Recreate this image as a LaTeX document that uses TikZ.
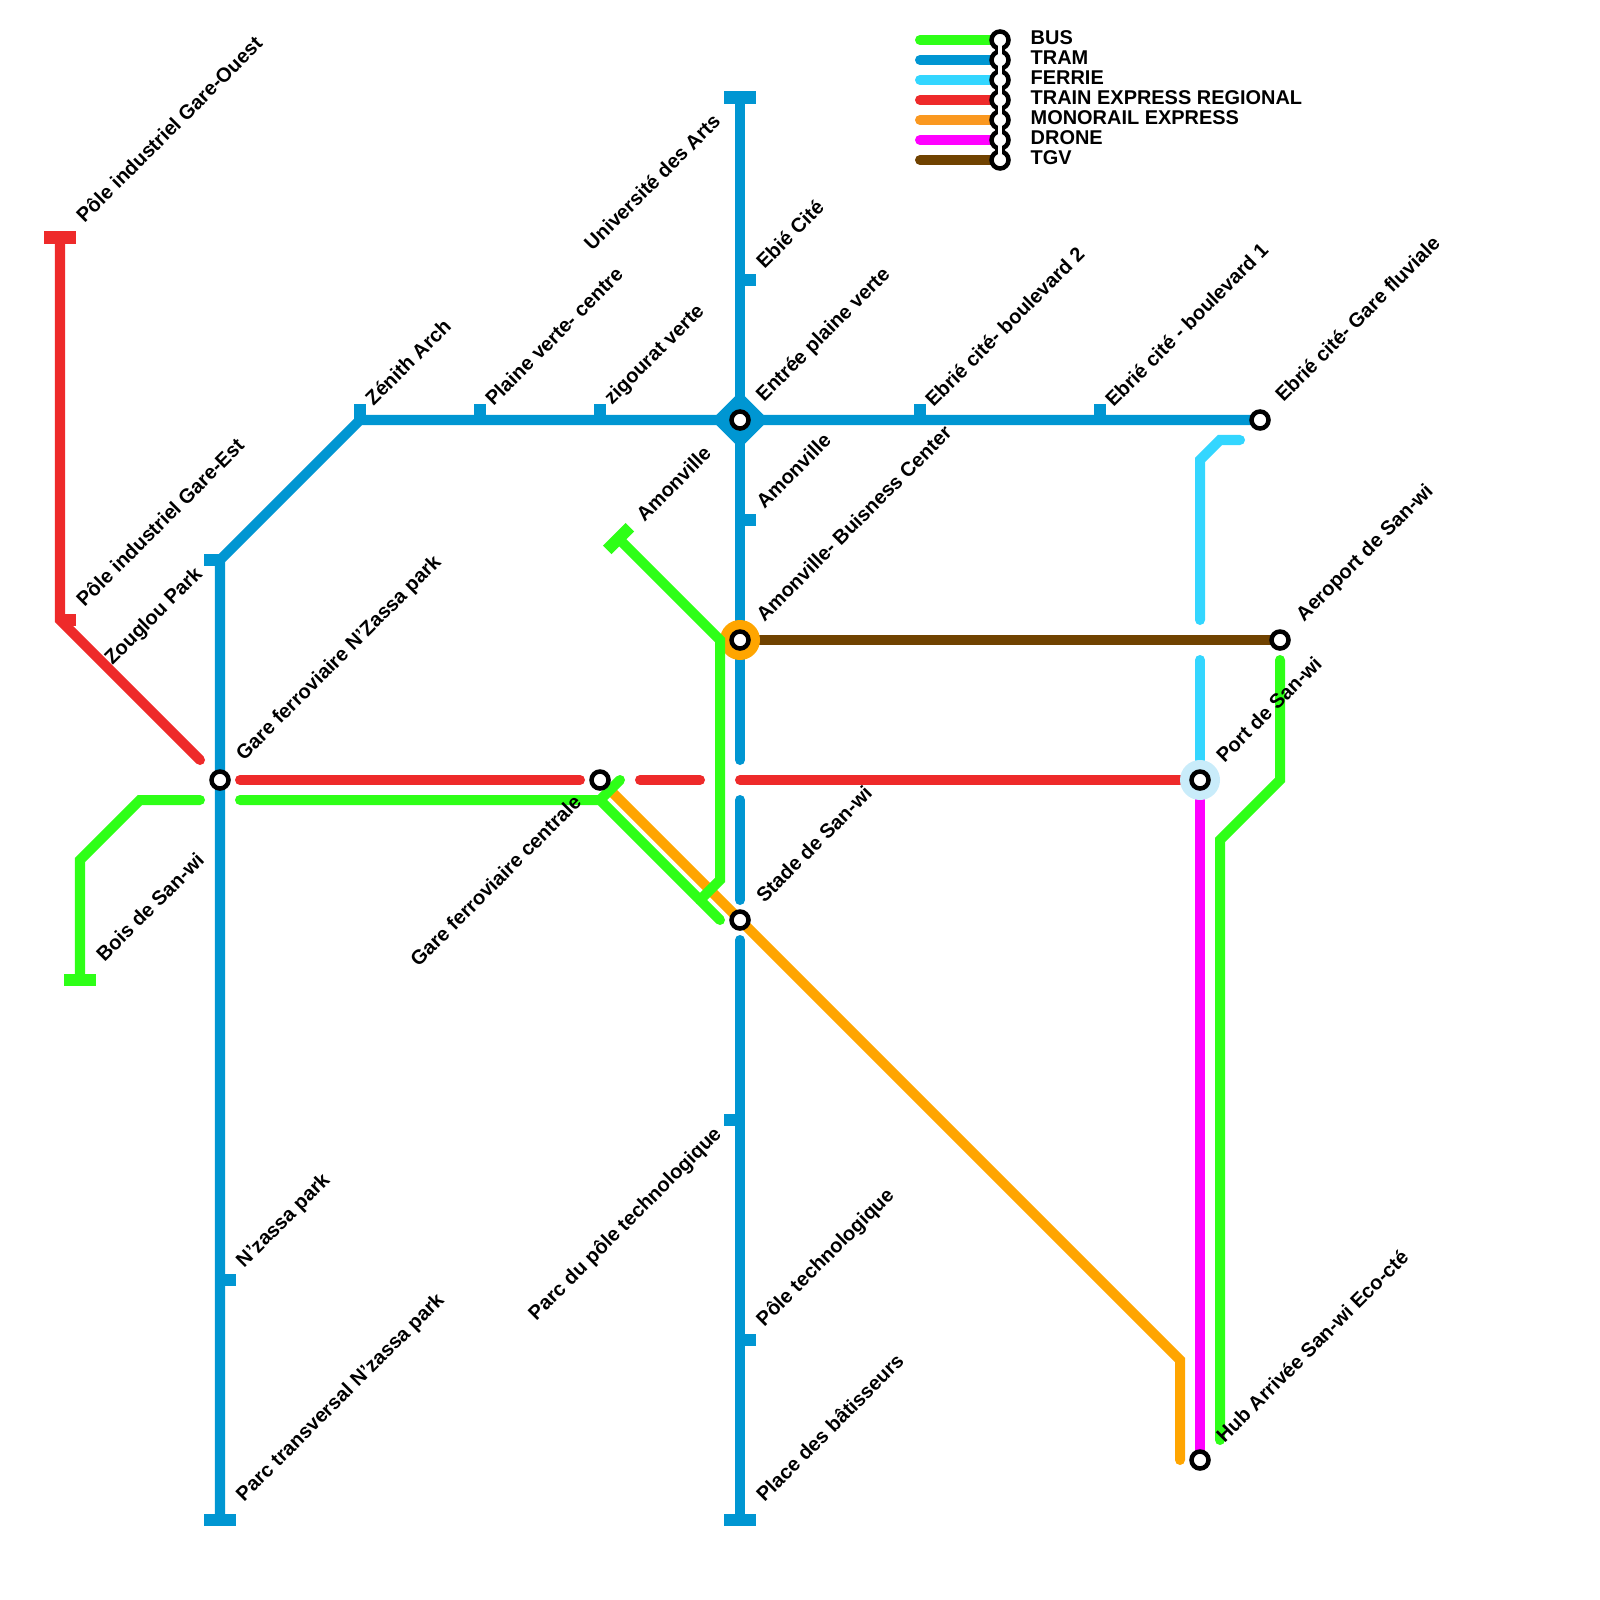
\documentclass[tikz,border=0pt]{standalone}
\usepackage{fontspec}
\setmainfont{Liberation Sans}
\usepackage{xcolor}
\usetikzlibrary{
	positioning,
	shapes.geometric
}
\definecolor{busgreen}{HTML}{2EFF17}
\definecolor{tramblue}{HTML}{0096D2}
\definecolor{ferrieblue}{HTML}{33D6FF}
\definecolor{terred}{HTML}{EE2A2A}
\definecolor{monoorange}{HTML}{FFA500}
\definecolor{legendorange}{HTML}{FA9820}
\definecolor{dronepink}{HTML}{FF00FF}
\definecolor{tgvbrown}{HTML}{704200}
\definecolor{halopale}{HTML}{C9ECFA}
\tikzset{
	ligne/.style={line width=0.1cm, line cap=round, line join=miter},
	barre/.style={line width=0.12cm, line cap=butt},
	station/.style={circle, draw=black, fill=white, line width=0.045cm, minimum size=0.17cm, inner sep=0pt, outer sep=0pt},
	halo/.style={circle, minimum size=0.4cm, inner sep=0pt, outer sep=0pt},
	lblr/.style={rotate=45, anchor=west, inner sep=0pt, font=\fontsize{5.7}{6}\selectfont\bfseries},
	lbll/.style={rotate=45, anchor=east, inner sep=0pt, font=\fontsize{5.7}{6}\selectfont\bfseries},
	legendtext/.style={anchor=base west, inner sep=0pt, font=\fontsize{5.67}{6}\selectfont\bfseries}
}
\begin{document}
\begin{tikzpicture}[x=0.01cm, y=-0.01cm]
	\useasboundingbox (0,0) rectangle (1600,1600);

	% stops
	\coordinate (zouglou) at (220,560);
	\coordinate (garenzassa) at (220,780);
	\coordinate (nzassa) at (220,1280);
	\coordinate (transversal) at (220,1520);
	\coordinate (zenith) at (360,420);
	\coordinate (plaine) at (480,420);
	\coordinate (zigourat) at (600,420);
	\coordinate (entree) at (740,420);
	\coordinate (ebrie2) at (920,420);
	\coordinate (ebrie1) at (1100,420);
	\coordinate (fluviale) at (1260,420);
	\coordinate (universite) at (740,97.5);
	\coordinate (ebie) at (740,280);
	\coordinate (amonville) at (740,520);
	\coordinate (buisness) at (740,640);
	\coordinate (stade) at (740,920);
	\coordinate (parcpole) at (740,1120);
	\coordinate (pole) at (740,1340);
	\coordinate (batisseurs) at (740,1520);
	\coordinate (aeroport) at (1280,640);
	\coordinate (portsan) at (1200,780);
	\coordinate (hub) at (1200,1460);
	\coordinate (garecentrale) at (600,780);
	\coordinate (gareouest) at (60,237.5);
	\coordinate (gareest) at (60,620);
	\coordinate (boissan) at (80,980);
	\coordinate (amonbus) at (618.5,538.5);

	% tram
	\draw[ligne, tramblue] (transversal) -- (zouglou) -- (zenith) -- (fluviale);
	\draw[ligne, tramblue] (universite) -- (740,760);
	\draw[ligne, tramblue] (740,800) -- (740,900);
	\draw[ligne, tramblue] (740,940) -- (batisseurs);
	\draw[barre, tramblue] (zouglou) -- ++(-16,0);
	\draw[barre, tramblue] (204,1520) -- (236,1520);
	\draw[barre, tramblue] (nzassa) -- ++(16,0);
	\draw[barre, tramblue] (zenith) -- ++(0,-16);
	\draw[barre, tramblue] (plaine) -- ++(0,-16);
	\draw[barre, tramblue] (zigourat) -- ++(0,-16);
	\draw[barre, tramblue] (ebrie2) -- ++(0,-16);
	\draw[barre, tramblue] (ebrie1) -- ++(0,-16);
	\draw[barre, tramblue] (724,97.5) -- (756,97.5);
	\draw[barre, tramblue] (ebie) -- ++(16,0);
	\draw[barre, tramblue] (amonville) -- ++(16,0);
	\draw[barre, tramblue] (parcpole) -- ++(-16,0);
	\draw[barre, tramblue] (pole) -- ++(16,0);
	\draw[barre, tramblue] (724,1520) -- (756,1520);
	\node[diamond, fill=tramblue, minimum size=0.58cm, inner sep=0pt] (dentree) at (entree) {};

	% ferrie, tgv, ter, monorail, drone
	\draw[ligne, ferrieblue] (1240,440) -- (1220,440) -- (1200,460) -- (1200,620);
	\draw[ligne, ferrieblue] (1200,660) -- (portsan);
	\draw[ligne, tgvbrown] (buisness) -- (aeroport);
	\draw[barre, terred] (44,237.5) -- (76,237.5);
	\draw[barre, terred] (gareest) -- ++(16,0);
	\draw[ligne, terred] (gareouest) -- (gareest) -- (200,760);
	\draw[ligne, terred] (240,780) -- (580,780);
	\draw[ligne, terred] (640,780) -- (700,780);
	\draw[ligne, terred] (740,780) -- (portsan);
	\draw[ligne, monoorange] (610,790) -- (1180,1360) -- (1180,1460);
	\draw[ligne, dronepink] (portsan) -- (hub);
	\node[halo, fill=monoorange] (hbuisness) at (buisness) {};
	\node[halo, fill=halopale] (hportsan) at (portsan) {};

	% bus
	\draw[barre, busgreen] (64,980) -- (96,980);
	\draw[barre, busgreen] (607.2,549.8) -- (629.8,527.2);
	\draw[ligne, busgreen] (boissan) -- (80,860) -- (140,800) -- (200,800);
	\draw[ligne, busgreen] (240,800) -- (600,800) -- (720,920);
	\draw[ligne, busgreen] (600,800) -- (620,780);
	\draw[ligne, busgreen] (amonbus) -- (720,640) -- (720,880) -- (700,900);
	\draw[ligne, busgreen] (1280,660) -- (1280,780) -- (1220,840) -- (1220,1440);

	% stations
	\node[station] (sgarenzassa) at (garenzassa) {};
	\node[station] (sentree) at (entree) {};
	\node[station] (sfluviale) at (fluviale) {};
	\node[station] (sbuisness) at (buisness) {};
	\node[station] (sstade) at (stade) {};
	\node[station] (saeroport) at (aeroport) {};
	\node[station] (sportsan) at (portsan) {};
	\node[station] (shub) at (hub) {};
	\node[station] (sgarecentrale) at (garecentrale) {};

	% labels
	\node[lblr] (lgareouest) at (79,219) {Pôle industriel Gare-Ouest};
	\node[lblr] (lgareest) at (79,603) {Pôle industriel Gare-Est};
	\node[lbll] (lzouglou) at (200,571) {Zouglou Park};
	\node[lblr] (lgarenzassa) at (240,758) {Gare ferroviaire N'Zassa park};
	\node[lblr] (lboissan) at (99,958) {Bois de San-wi};
	\node[lblr] (lzenith) at (368,402) {Zénith Arch};
	\node[lblr] (lplaine) at (488,402) {Plaine verte- centre};
	\node[lblr] (lzigourat) at (608,402) {zigourat verte};
	\node[lblr] (lentree) at (760,399) {Entrée plaine verte};
	\node[lblr] (lebrie2) at (928,403) {Ebrié cité- boulevard 2};
	\node[lblr] (lebrie1) at (1108,403) {Ebrié cité - boulevard 1};
	\node[lblr] (lfluviale) at (1278,398) {Ebrié cité- Gare fluviale};
	\node[lbll] (luniversite) at (717,117) {Université des Arts};
	\node[lblr] (lebie) at (759,265) {Ebié Cité};
	\node[lblr] (lamonville) at (759,505) {Amonville};
	\node[lblr] (lamonbus) at (639,518) {Amonville};
	\node[lblr] (lbuisness) at (759,618) {Amonville- Buisness Center};
	\node[lblr] (laeroport) at (1300,619) {Aeroport de San-wi};
	\node[lblr] (lportsan) at (1219,759) {Port de San-wi};
	\node[lblr] (lstade) at (759,899) {Stade de San-wi};
	\node[lbll] (lgarecentrale) at (578,798) {Gare ferroviaire centrale};
	\node[lbll] (lparcpole) at (719,1131) {Parc du pôle technologique};
	\node[lblr] (lnzassa) at (240,1265) {N'zassa park};
	\node[lblr] (ltransversal) at (240,1499) {Parc transversal N'zassa park};
	\node[lblr] (lpole) at (760,1324) {Pôle technologique};
	\node[lblr] (lbatisseurs) at (759,1498) {Place des bâtisseurs};
	\node[lblr] (lhub) at (1219,1439) {Hub Arrivée San-wi Eco-cté};

	% legend
	\coordinate (rbus) at (1000,40);
	\coordinate (rtram) at (1000,60);
	\coordinate (rferrie) at (1000,80);
	\coordinate (rter) at (1000,100);
	\coordinate (rmono) at (1000,120);
	\coordinate (rdrone) at (1000,140);
	\coordinate (rtgv) at (1000,160);
	\draw[ligne, busgreen] (920,40) -- (rbus);
	\draw[ligne, tramblue] (920,60) -- (rtram);
	\draw[ligne, ferrieblue] (920,80) -- (rferrie);
	\draw[ligne, terred] (920,100) -- (rter);
	\draw[ligne, legendorange] (920,120) -- (rmono);
	\draw[ligne, dronepink] (920,140) -- (rdrone);
	\draw[ligne, tgvbrown] (920,160) -- (rtgv);
	\draw[line width=0.1cm, black] (rbus) -- (rtgv);
	\node[station] (sbus) at (rbus) {};
	\node[station] (stram) at (rtram) {};
	\node[station] (sferrie) at (rferrie) {};
	\node[station] (ster) at (rter) {};
	\node[station] (smono) at (rmono) {};
	\node[station] (sdrone) at (rdrone) {};
	\node[station] (stgv) at (rtgv) {};
	\draw[line width=0.04cm, white] (rbus) -- (rtgv);
	\node[legendtext] (tbus) at (1030,44.5) {BUS};
	\node[legendtext] (ttram) at (1030,64.5) {TRAM};
	\node[legendtext] (tferrie) at (1030,84.5) {FERRIE};
	\node[legendtext] (tter) at (1030,104.5) {TRAIN EXPRESS REGIONAL};
	\node[legendtext] (tmono) at (1030,124.5) {MONORAIL EXPRESS};
	\node[legendtext] (tdrone) at (1030,144.5) {DRONE};
	\node[legendtext] (ttgv) at (1030,164.5) {TGV};
\end{tikzpicture}
\end{document}
